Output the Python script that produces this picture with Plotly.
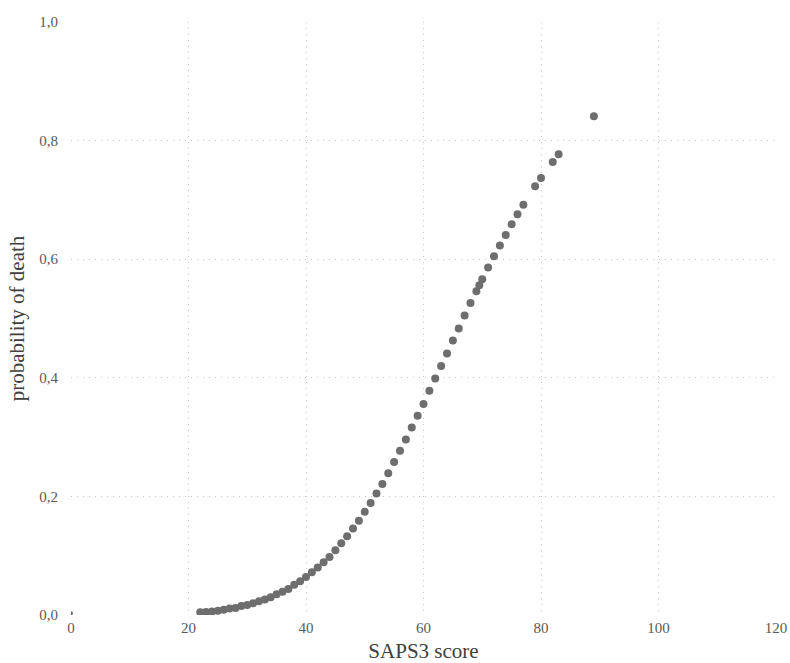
import plotly.graph_objects as go

saps3_score = [22, 23, 24, 25, 26, 27, 28, 29, 30, 31, 32, 33, 34, 35, 36, 37, 38, 39, 40,
               41, 42, 43, 44, 45, 46, 47, 48, 49, 50, 51, 52, 53, 54, 55, 56, 57, 58, 59, 60,
               61, 62, 63, 64, 65, 66, 67, 68, 69, 69.5, 70, 71, 72, 73, 74, 75, 76, 77, 79, 80,
               82, 83, 89]
prob_death = [0.0045, 0.005, 0.006, 0.007, 0.009, 0.011, 0.012, 0.015, 0.017, 0.020, 0.023,
              0.026, 0.030, 0.035, 0.039, 0.044, 0.051, 0.057, 0.064,
              0.072, 0.080, 0.089, 0.098, 0.109, 0.121, 0.133, 0.146, 0.159, 0.174, 0.189,
              0.205, 0.221, 0.239, 0.258, 0.277, 0.296, 0.316, 0.336, 0.356,
              0.378, 0.399, 0.420, 0.441, 0.463, 0.483, 0.505, 0.526, 0.546, 0.556, 0.566,
              0.586, 0.605, 0.623, 0.641, 0.659, 0.676, 0.692, 0.723, 0.737,
              0.764, 0.777, 0.841]
origin_score = [0]
origin_prob = [0.003]

x_ticks = [0, 20, 40, 60, 80, 100, 120]
y_ticks = [0.0, 0.2, 0.4, 0.6, 0.8, 1.0]

fig = go.Figure()
fig.add_trace(go.Scatter(x=saps3_score, y=prob_death, mode="markers",
                         marker=dict(size=8, color="#6e6e6e"), showlegend=False))
fig.add_trace(go.Scatter(x=origin_score, y=origin_prob, mode="markers",
                         marker=dict(size=4, color="#6e6e6e"), showlegend=False))

grid = dict(showgrid=True, gridcolor="#c4c4c4", gridwidth=1, griddash="1px,5px",
            zeroline=False, showline=False, ticks="", automargin=False)
fig.update_layout(
    width=790, height=663,
    margin=dict(l=71, r=14, t=22, b=48),
    paper_bgcolor="white", plot_bgcolor="white",
    separators=",.",
    font=dict(family="Liberation Serif", color="#5a5a5a", size=15),
    xaxis=dict(range=[0, 120], tickvals=x_ticks, tickformat="d", ticklabelstandoff=2,
               title=dict(text="SAPS3 score", font=dict(size=21, color="#404040"), standoff=9),
               **grid),
    yaxis=dict(range=[0, 1.0], tickvals=y_ticks, tickformat=".1f", ticklabelstandoff=12,
               title=dict(text="probability of death", font=dict(size=21, color="#404040"), standoff=8),
               **grid),
)
fig.write_html(
    "out.html",
    config={"displayModeBar": False},
    post_script="document.body.style.margin='0';document.documentElement.style.overflow='hidden';",
)
